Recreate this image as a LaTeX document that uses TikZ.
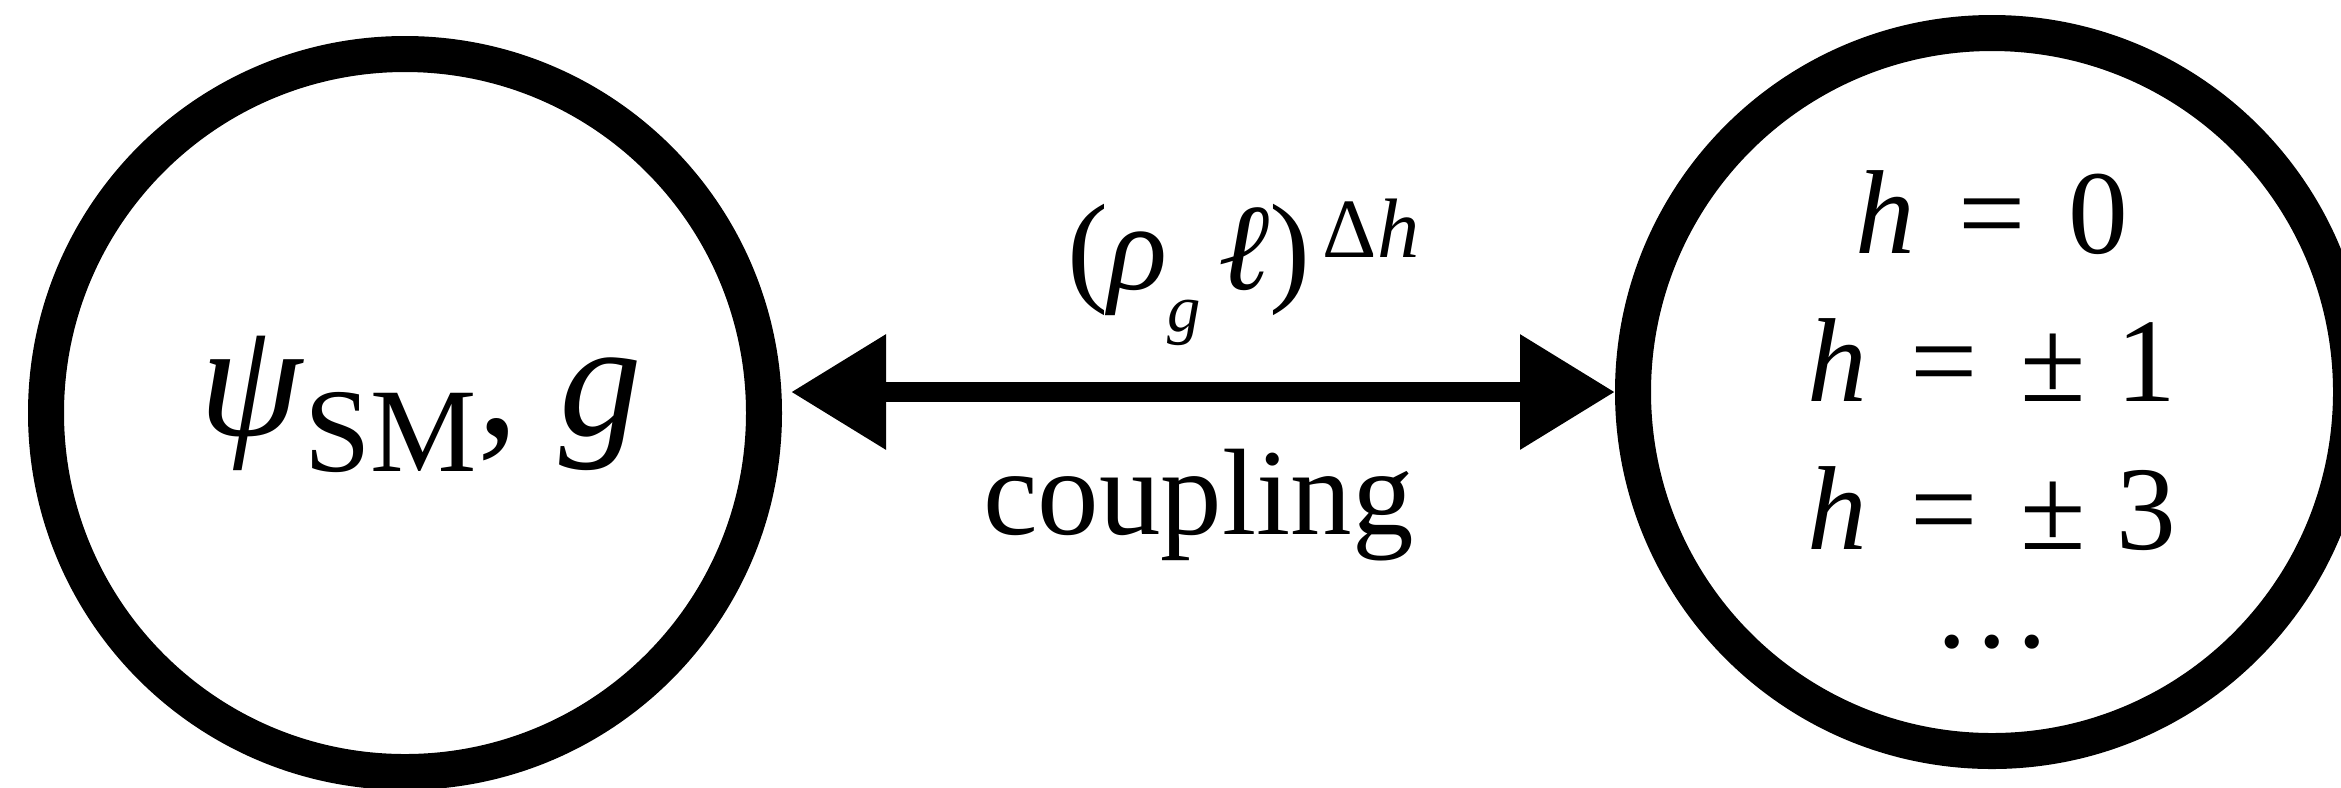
\documentclass[tikz,border=0pt]{standalone}
\usepackage{fontspec}
\setmainfont{Liberation Serif}
\usetikzlibrary{arrows.meta,positioning,calc}
% lowered / raised small text: #1 shift, #2 size, #3 text
\newcommand\lowtxt[3]{\raisebox{-#1}{\fontsize{#2}{#2}\selectfont #3}}
\newcommand\uptxt[3]{\raisebox{#1}{\fontsize{#2}{#2}\selectfont #3}}
\newcommand\gap{\hspace{0.36em}}
\tikzset{
  % Heavy black ring, one per sector.
  ring/.style = {circle, draw=black, line width=3.6mm, minimum size=71.8mm, inner sep=0pt},
  big/.style  = {font=\fontsize{35}{42}\selectfont, align=center, inner sep=0pt},
  huge/.style = {font=\fontsize{47}{56}\selectfont, inner sep=0pt},
  link/.style = {{Triangle[length=9.5mm,width=11mm]}-{Triangle[length=9.5mm,width=11mm]},
                 line width=2mm},
}

\begin{document}
\begin{tikzpicture}[x=1cm,y=1cm]
\useasboundingbox (0,0) rectangle (23.41,-7.87);
% the two sectors
\node[ring] (sm) at (4.05,-4.13) {};
\node[ring] (hs) at (19.92,-3.92) {};
\node[huge, anchor=base, xshift=1.6mm, yshift=-2.2mm] (smlbl) at (sm.center)
      {\textit{ψ}\lowtxt{10.5pt}{34pt}{SM}, \textit{g}};
\node[big, font=\fontsize{34}{42}\selectfont] (hlist) at ([yshift=-1.8mm]hs.center)
      {\textit{h}\gap=\gap0\\ \textit{h}\gap=\gap± 1\\ \textit{h}\gap=\gap± 3\\[-14pt] …};
% coupling between them
\draw[link, shorten <=0.9mm] (sm.east |- hs.west) -- (hs.west)
      coordinate[midway] (mid);
\node[big, anchor=base, xshift=4.5mm, yshift=10.3mm] (rate) at (mid)
      {(\textit{ρ}\lowtxt{12pt}{19pt}{\textit{g}}\hspace{0.14em}\textit{ℓ})\hspace{0.1em}\uptxt{9pt}{24pt}{Δ\textit{h}}};
\node[big, anchor=base, yshift=-14.2mm] (cpl) at (mid) {coupling};
\end{tikzpicture}
\end{document}
